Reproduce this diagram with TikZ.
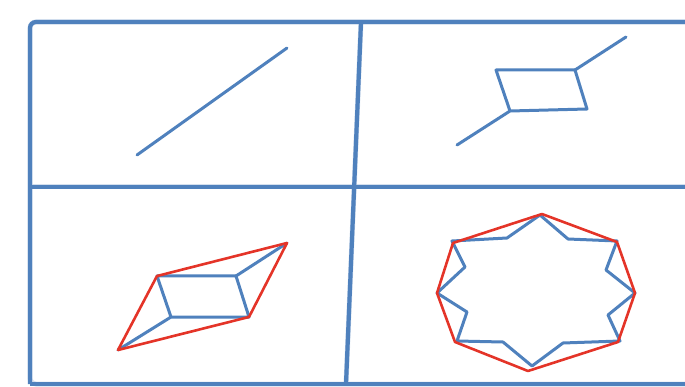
\documentclass[tikz,border=0pt]{standalone}
\usepackage{tikz}
\usetikzlibrary{calc}

\definecolor{frameblue}{RGB}{79,129,189}
\definecolor{hullred}{RGB}{228,52,40}

\begin{document}
\begin{tikzpicture}[x=1pt, y=-1pt,
    framepen/.style={line width=4.2pt, frameblue},
    shapepen/.style={line width=3pt, frameblue, line join=round, line cap=round},
    hullpen/.style={line width=2.6pt, hullred, line join=round, line cap=round}]

    % === Page limits ===
    \def\xmin{0}   \def\xmax{685}
    \def\ymin{0}   \def\ymax{387}
    \useasboundingbox (\xmin,\ymin) rectangle (\xmax,\ymax);

    % === Frame ===
    \def\fl{30}  \def\ft{22}  \def\fb{384} \def\fm{187}
    \coordinate (top-left) at (\fl,\ft);
    \coordinate (top-right) at (\xmax+10,\ft);
    \coordinate (bottom-left) at (\fl,\fb);
    \coordinate (bottom-right) at (\xmax+10,\fb);
    \coordinate (mid-left) at (\fl,\fm);
    \coordinate (mid-right) at (\xmax+10,\fm);
    \coordinate (split-top) at (361,\ft);
    \coordinate (split-bottom) at (346,\fb);

    % soft shadow
    \begin{scope}[shift={(1.5,1.5)}]
        \draw[framepen, frameblue!25, line width=5pt, rounded corners=6pt]
        (top-right) -- (top-left) -- (bottom-left) -- (bottom-right);
        \draw[framepen, frameblue!25, line width=5pt] (mid-left) -- (mid-right);
        \draw[framepen, frameblue!25, line width=5pt] (split-top) -- (split-bottom);
    \end{scope}

    \draw[framepen, rounded corners=6pt] (top-right) -- (top-left) -- (bottom-left);
    \draw[framepen] (bottom-left) -- (bottom-right);
    \draw[framepen] (mid-left) -- (mid-right);
    \draw[framepen] (split-top) -- (split-bottom);

    % === Panel 1: single segment ===
    \coordinate (seg-a) at (137,155);
    \coordinate (seg-b) at (287,48);
    \draw[shapepen] (seg-a) -- (seg-b);

    % === Panel 2: segment with a parallelogram ===
    \coordinate (p2-tail) at (457,145);
    \coordinate (p2-bl) at (510,111);
    \coordinate (p2-tl) at (496,70);
    \coordinate (p2-tr) at (575,70);
    \coordinate (p2-br) at (587,109);
    \coordinate (p2-head) at (626,37);
    \draw[shapepen] (p2-tail) -- (p2-bl) -- (p2-tl) -- (p2-tr) -- (p2-br) -- (p2-bl) -- cycle;
    \draw[shapepen] (p2-tr) -- (p2-head);

    % === Panel 3: parallelogram and its hull ===
    \coordinate (p3-tail) at (118,350);
    \coordinate (p3-bl) at (171,317);
    \coordinate (p3-tl) at (157,276);
    \coordinate (p3-tr) at (236,276);
    \coordinate (p3-br) at (249,317);
    \coordinate (p3-head) at (287,243);
    \draw[shapepen] (p3-tail) -- (p3-bl) -- (p3-tl) -- (p3-tr) -- (p3-br) -- (p3-bl);
    \draw[shapepen] (p3-tr) -- (p3-head);
    \draw[hullpen] (p3-tail) -- (p3-tl) -- (p3-head) -- (p3-br) -- cycle;

    % === Panel 4: star and octagon hull ===
    \draw[shapepen] (540,215) -- (568,239) -- (617,241) -- (606,270) -- (635,293)
    -- (608,315) -- (620,341) -- (563,343) -- (532,366) -- (503,342)
    -- (457,341) -- (467,312) -- (437,293) -- (465,267) -- (452,241)
    -- (507,238) -- cycle;
    \draw[hullpen] (542,214) -- (617,242) -- (635,293) -- (618,342)
    -- (528,371) -- (455,342) -- (437,293) -- (453,243) -- cycle;

\end{tikzpicture}
\end{document}
